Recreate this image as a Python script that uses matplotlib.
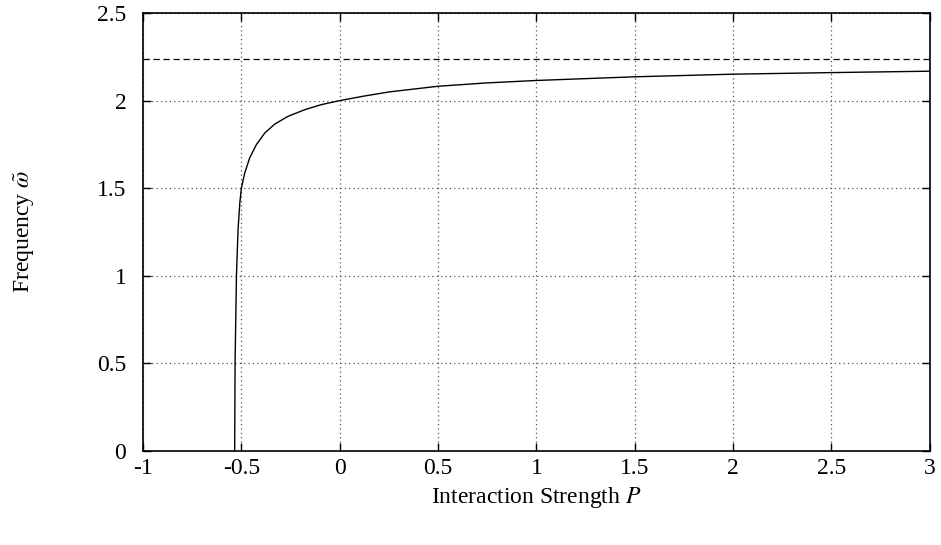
import matplotlib
matplotlib.use("Agg")
import matplotlib.pyplot as plt

plt.rcParams['font.family'] = ['Liberation Serif', 'DejaVu Serif']
plt.rcParams['mathtext.fontset'] = 'stix'
plt.rcParams['axes.unicode_minus'] = False

# Curve
P = [-0.534, -0.532, -0.525, -0.517, -0.508, -0.500, -0.483, -0.458, -0.424,
     -0.381, -0.330, -0.263, -0.178, -0.093, 0.0, 0.119, 0.254, 0.5, 0.746,
     1.0, 1.5, 2.0, 2.5, 3.0]
omega = [0.0, 0.5, 1.0, 1.26, 1.414, 1.5, 1.586, 1.672, 1.748,
         1.815, 1.866, 1.910, 1.948, 1.977, 2.0, 2.025, 2.050, 2.082, 2.101,
         2.115, 2.136, 2.151, 2.160, 2.168]
asymptote = 2.236

xticks = [-1, -0.5, 0, 0.5, 1, 1.5, 2, 2.5, 3]
xticklabels = ["-1", "-0.5", "0", "0.5", "1", "1.5", "2", "2.5", "3"]
yticks = [0, 0.5, 1, 1.5, 2, 2.5]
yticklabels = ["0", "0.5", "1", "1.5", "2", "2.5"]

fig = plt.figure(figsize=(9.41, 5.45), dpi=100)
ax = fig.add_axes([0.152, 0.173, 0.836, 0.803])

ax.plot(P, omega, color='black', lw=1.0)
ax.axhline(asymptote, color='black', lw=0.9, ls=(0, (5, 3)))

ax.set_xlim(-1, 3)
ax.set_ylim(0, 2.5)
ax.set_xticks(xticks)
ax.set_xticklabels(xticklabels)
ax.set_yticks(yticks)
ax.set_yticklabels(yticklabels)
ax.grid(True, color='#555555', ls=(0, (1, 2.5)), lw=0.9)
ax.tick_params(direction='in', length=6, width=1, top=True, right=True,
               labelsize=17)
ax.tick_params(axis='x', pad=5)
ax.tick_params(axis='y', pad=12)
for s in ax.spines.values():
    s.set_linewidth(1.2)

ax.set_xlabel("Interaction Strength $P$", fontsize=17)
ax.set_ylabel(r"Frequency $\tilde{\omega}$", fontsize=17)
ax.xaxis.set_label_coords(0.5, -0.107)
ax.xaxis.label.set_va('center')
ax.yaxis.set_label_coords(-0.151, 0.5)
ax.yaxis.label.set_va('center')

fig.savefig("out.png", dpi=100)
